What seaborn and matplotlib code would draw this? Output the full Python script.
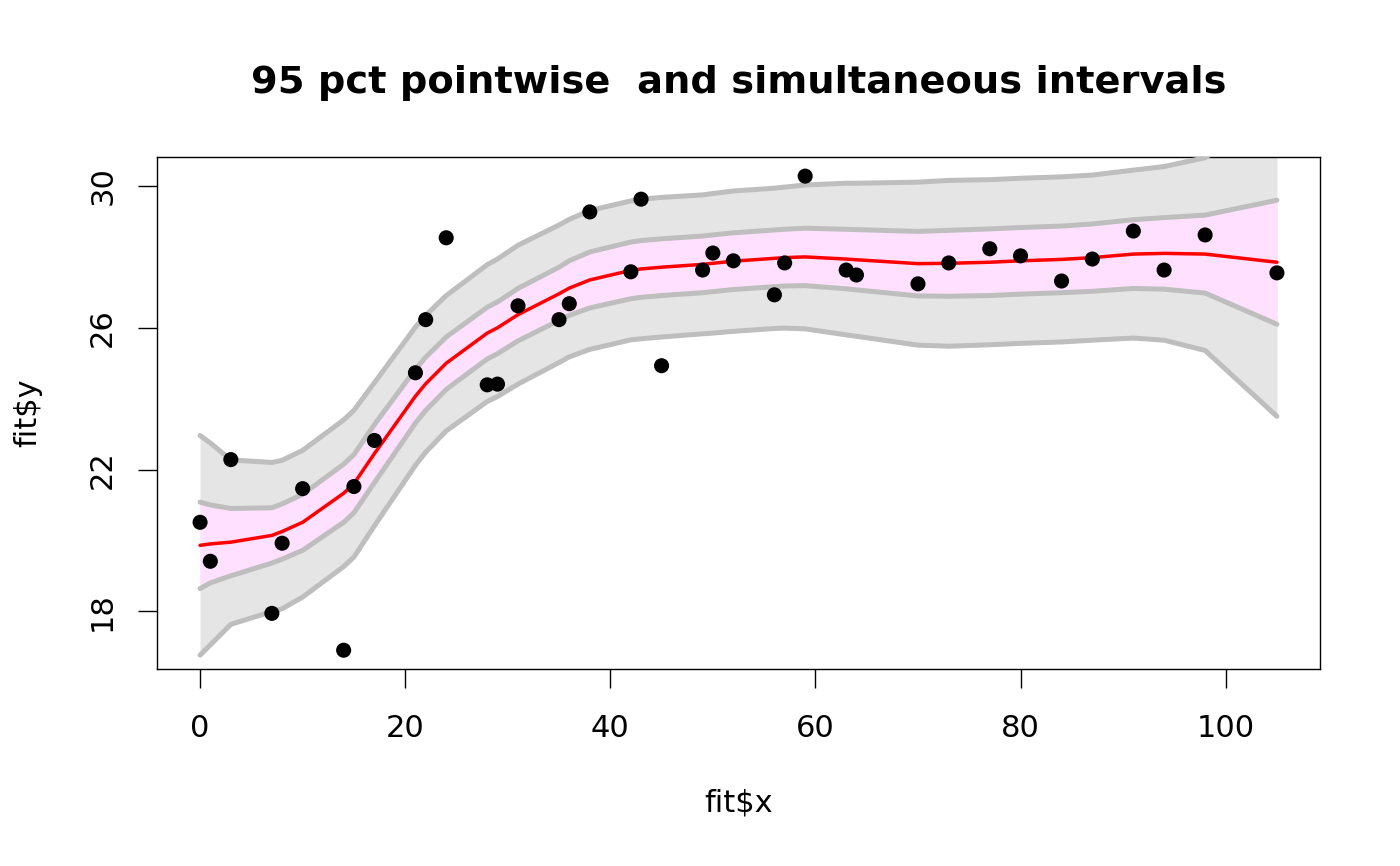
import numpy as np
import pandas as pd
import matplotlib
matplotlib.use("Agg")
import matplotlib.pyplot as plt
import seaborn as sns

# ---- data ----
x_obs = [0, 1, 3, 7, 8, 10, 14, 15, 17, 21, 22, 24, 28, 29, 31, 35, 36, 38, 42, 43,
         45, 49, 50, 52, 56, 57, 59, 63, 64, 70, 73, 77, 80, 84, 87, 91, 94, 98, 105]
y_obs = [20.51, 19.41, 22.28, 17.94, 19.92, 21.46, 16.90, 21.52, 22.82, 24.73,
         26.23, 28.54, 24.39, 24.41, 26.62, 26.23, 26.68, 29.27, 27.58, 29.63,
         24.93, 27.63, 28.11, 27.89, 26.93, 27.83, 30.28, 27.63, 27.49, 27.24,
         27.83, 28.23, 28.03, 27.32, 27.94, 28.73, 27.63, 28.62, 27.55]

fit = [19.86, 19.90, 19.95, 20.14, 20.25, 20.51, 21.33, 21.60, 22.45, 24.07,
       24.42, 25.00, 25.85, 26.00, 26.37, 26.96, 27.12, 27.35, 27.62, 27.66,
       27.71, 27.79, 27.82, 27.88, 27.96, 27.98, 28.00, 27.94, 27.92, 27.81,
       27.82, 27.85, 27.89, 27.93, 27.98, 28.08, 28.10, 28.08, 27.85]

pw_upper = [21.08, 21.00, 20.90, 20.92, 21.03, 21.30, 22.15, 22.42, 23.27, 24.83,
            25.17, 25.74, 26.58, 26.73, 27.11, 27.71, 27.89, 28.14, 28.42, 28.46,
            28.51, 28.59, 28.62, 28.68, 28.76, 28.78, 28.81, 28.78, 28.77, 28.72,
            28.75, 28.79, 28.83, 28.87, 28.93, 29.05, 29.11, 29.18, 29.60]
pw_lower = [18.64, 18.80, 19.00, 19.36, 19.47, 19.72, 20.51, 20.78, 21.63, 23.31,
            23.67, 24.26, 25.12, 25.27, 25.63, 26.21, 26.35, 26.56, 26.82, 26.86,
            26.91, 26.99, 27.02, 27.08, 27.16, 27.18, 27.19, 27.10, 27.07, 26.90,
            26.89, 26.91, 26.95, 26.99, 27.03, 27.11, 27.09, 26.98, 26.10]

sim_upper = [22.96, 22.75, 22.27, 22.20, 22.26, 22.54, 23.40, 23.67, 24.45, 26.02,
             26.35, 26.91, 27.78, 27.94, 28.33, 28.90, 29.06, 29.31, 29.58, 29.63,
             29.68, 29.75, 29.79, 29.86, 29.94, 29.97, 30.03, 30.08, 30.08, 30.11,
             30.16, 30.18, 30.22, 30.26, 30.31, 30.45, 30.55, 30.80, 32.20]
sim_lower = [16.76, 17.05, 17.63, 17.99, 18.07, 18.40, 19.26, 19.53, 20.41, 22.12,
             22.49, 23.09, 23.92, 24.06, 24.41, 25.02, 25.18, 25.39, 25.66, 25.69,
             25.74, 25.83, 25.85, 25.90, 25.98, 25.99, 25.97, 25.80, 25.76, 25.51,
             25.48, 25.52, 25.56, 25.60, 25.65, 25.71, 25.65, 25.36, 23.50]

x_ticks = [0, 20, 40, 60, 80, 100]
y_ticks = [18, 22, 26, 30]

title = "95 pct pointwise  and simultaneous intervals"
xlabel = r"fit\$x"
ylabel = r"fit\$y"

# ---- styling ----
sns.set_theme(style="white")
plt.rcParams["font.family"] = ["DejaVu Sans"]

W, H = 1400, 866
fig = plt.figure(figsize=(W / 100, H / 100), dpi=100)
fig.patch.set_facecolor("white")
ax = fig.add_axes([157 / W, 1 - 669 / H, (1320 - 157) / W, (669 - 157) / H])
ax.set_facecolor("white")

df = pd.DataFrame({"x": x_obs, "y": y_obs, "fit": fit,
                   "pu": pw_upper, "pl": pw_lower,
                   "su": sim_upper, "sl": sim_lower})

GRAY_FILL = "#E5E5E5"
PINK_FILL = "#FFE1FF"
GRAY_LINE = "#BEBEBE"

ax.fill_between(df["x"], df["sl"], df["su"], color=GRAY_FILL, lw=0, zorder=1)
ax.fill_between(df["x"], df["pl"], df["pu"], color=PINK_FILL, lw=0, zorder=2)

for col in ["su", "sl", "pu", "pl"]:
    sns.lineplot(data=df, x="x", y=col, ax=ax, color=GRAY_LINE, linewidth=3.6,
                 estimator=None, sort=False, zorder=3,
                 solid_capstyle="round", solid_joinstyle="round")
sns.lineplot(data=df, x="x", y="fit", ax=ax, color="#FF0000", linewidth=2.5,
             estimator=None, sort=False, zorder=4,
             solid_capstyle="round", solid_joinstyle="round")
sns.scatterplot(data=df, x="x", y="y", ax=ax, color="black", s=118,
                edgecolor="none", linewidth=0, zorder=5)

ax.set_xlim(-4.2, 109.2)
ax.set_ylim(16.37, 30.82)
ax.set_xticks(x_ticks)
ax.set_yticks(y_ticks)
ax.set_xticklabels([str(v) for v in x_ticks])
ax.set_yticklabels([str(v) for v in y_ticks])
ax.set_xlabel("")
ax.set_ylabel("")

for s in ax.spines.values():
    s.set_visible(True)
    s.set_color("black")
    s.set_linewidth(1.0)

ax.tick_params(axis="both", which="major", direction="out", length=13.7,
               width=1.0, color="black", labelsize=22, labelcolor="black",
               bottom=True, left=True, top=False, right=False)
ax.tick_params(axis="x", pad=18.5)
ax.tick_params(axis="y", pad=15)
for lab in ax.get_yticklabels():
    lab.set_rotation(90)
    lab.set_va("center")
    lab.set_ha("right")

fig.text(738.5 / W, 1 - 92.7 / H, title, ha="center", va="baseline",
         fontsize=27.6, fontweight="bold", color="black")
fig.text(738.5 / W, 1 - 803 / H, xlabel, ha="center", va="center",
         fontsize=22, color="black")
fig.text(28 / W, 1 - 413 / H, ylabel, ha="center", va="center",
         rotation=90, fontsize=22, color="black")

fig.savefig("out.png", dpi=100, facecolor="white")
